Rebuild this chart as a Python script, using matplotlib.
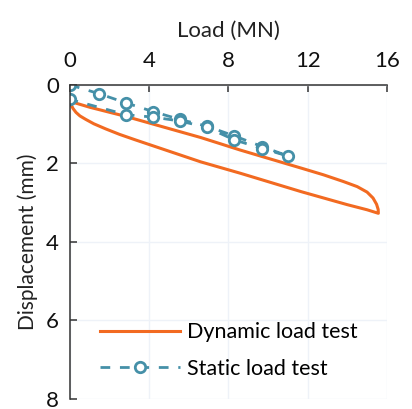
import matplotlib
matplotlib.use("Agg")
import matplotlib.pyplot as plt

# dynamic load test (loading branch, then unloading back)
dyn_load = [0.0, 0.05, 0.15, 0.3, 0.5, 0.8, 1.2, 1.8, 2.5, 3.3, 6.6, 8.6, 11.68, 14.0, 15.0, 15.57,
            15.56, 15.48, 15.3, 15.0, 14.5, 13.8, 12.8, 11.68, 8.6, 6.6, 2.8, 1.0, 0.0]
dyn_disp = [0.42, 0.5, 0.6, 0.7, 0.79, 0.88, 0.99, 1.12, 1.26, 1.40, 1.96, 2.25, 2.72, 3.05, 3.18, 3.27,
            3.17, 3.04, 2.88, 2.73, 2.59, 2.46, 2.29, 2.12, 1.66, 1.34, 0.80, 0.57, 0.42]

# static load test (loading, then unloading)
sta_load = [0.0, 1.44, 2.84, 4.2, 5.55, 6.9, 8.3, 9.7, 11.0,
            9.7, 8.3, 6.9, 5.55, 4.2, 2.84, 0.0]
sta_disp = [0.0, 0.22, 0.46, 0.68, 0.88, 1.05, 1.30, 1.57, 1.81,
            1.62, 1.40, 1.08, 0.92, 0.82, 0.76, 0.37]

orange = "#f26a21"
blue = "#4590a8"

plt.rcParams['font.family'] = ['Lato', 'DejaVu Sans']

fig = plt.figure(figsize=(4.12, 4.09), dpi=100)
ax = fig.add_axes([0.170, 0.0244, 0.769, 0.768])

ax.plot(dyn_load, dyn_disp, color=orange, lw=2.2, label="Dynamic load test")
ax.plot(sta_load, sta_disp, color=blue, lw=2.0, dashes=[3.5, 3.5],
        marker="o", ms=7.5, mfc="white", mec=blue, mew=2.0, label="Static load test")

ax.set_xlim(0, 16)
ax.set_ylim(8, 0)
ax.set_xticks([0, 4, 8, 12, 16])
ax.set_yticks([0, 2, 4, 6, 8])
ax.xaxis.tick_top()
ax.xaxis.set_label_position("top")
ax.set_xlabel("Load (MN)", fontsize=16, labelpad=10, color="#222222")
ax.set_ylabel("Displacement (mm)", fontsize=15, labelpad=6, color="#222222")
ax.tick_params(direction="in", length=5, width=1.1, labelsize=16, colors="#333333",
               labelcolor="#111111", pad=8)
ax.tick_params(axis="x", pad=10)
for s in ["right", "bottom"]:
    ax.spines[s].set_visible(False)
for s in ["top", "left"]:
    ax.spines[s].set_color("#333333")
    ax.spines[s].set_linewidth(1.1)
ax.grid(True, color="#eef2f8", lw=1.0)
ax.set_axisbelow(True)

ax.legend(loc="center left", bbox_to_anchor=(0.243, 0.143), bbox_transform=fig.transFigure,
          frameon=False, fontsize=15.5, handlelength=3.7, handletextpad=0.35,
          labelspacing=0.75, borderpad=0, borderaxespad=0)

fig.savefig("out.png", dpi=100)
